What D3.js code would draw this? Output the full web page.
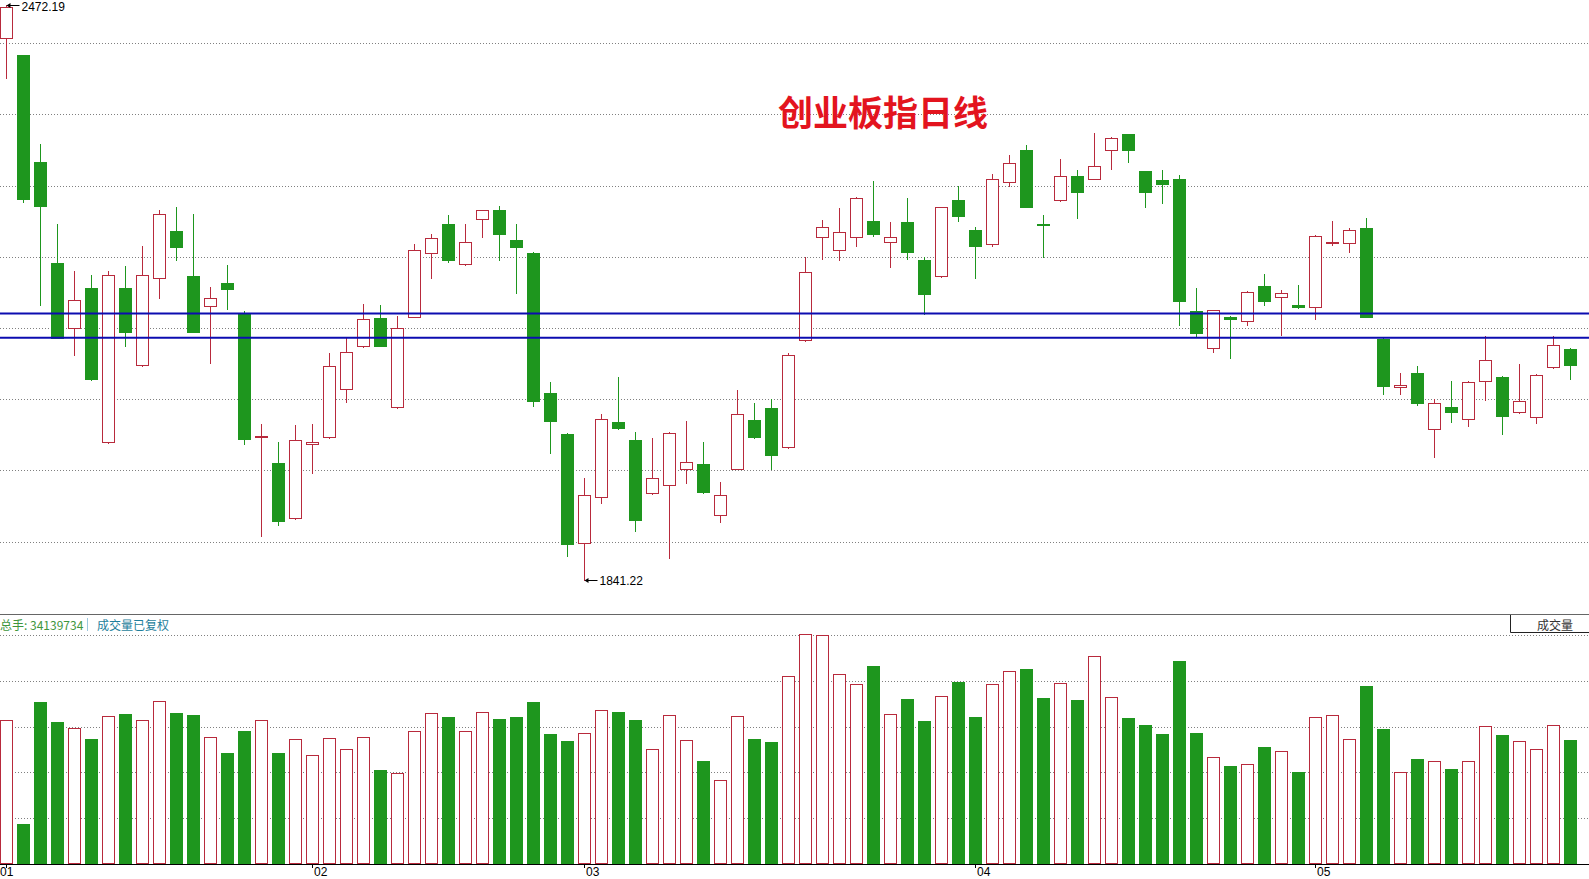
<!DOCTYPE html>
<html>
<head>
<meta charset="utf-8">
<script src="https://cdn.jsdelivr.net/npm/d3@7/dist/d3.min.js"></script>
<style>
  body { margin: 0; background: #fff; overflow: hidden; }
  svg { display: block; }
  text { font-family: "Liberation Sans", Arial, sans-serif; }
</style>
</head>
<body>
<div id="chart"></div>
<script>
// daily candles
var opens = [2436.5, 2416.8, 2299.8, 2189.4, 2118.1, 2161.7, 1992.3, 2161.7, 2077.0, 2172.2,
  2224.3, 2175.2, 2141.6, 2167.2, 2133.2, 1998.1, 1970.0, 1908.8, 1990.6, 1998.1,
  2050.6, 2098.0, 2129.0, 2030.9, 2129.9, 2199.9, 2232.2, 2187.8, 2237.3, 2246.9,
  2214.2, 2200.3, 2046.8, 2001.9, 1881.9, 1932.3, 2014.9, 1995.2, 1936.5, 1945.7,
  1963.3, 1968.8, 1912.5, 1963.3, 2016.6, 2030.0, 1987.2, 2104.7, 2217.5, 2202.9,
  2217.5, 2235.2, 2212.1, 2234.3, 2192.4, 2174.8, 2258.2, 2225.5, 2209.6, 2277.5,
  2313.2, 2232.2, 2257.8, 2284.2, 2281.3, 2312.4, 2330.4, 2290.1, 2280.0, 2281.3,
  2136.2, 2095.5, 2129.9, 2125.2, 2164.3, 2151.7, 2142.9, 2140.8, 2211.7, 2210.8,
  2227.6, 2105.9, 2052.7, 2068.6, 2007.8, 2031.3, 2018.7, 2060.2, 2064.4, 2025.4,
  2019.9, 2074.5, 2095.0];
var highs = [2472.19, 2416.8, 2319.9, 2232.2, 2180.6, 2176.4, 2180.6, 2186.1, 2207.9, 2246.9,
  2250.7, 2243.1, 2163.0, 2186.9, 2136.6, 2012.8, 1992.3, 2011.6, 2012.8, 2090.4,
  2107.6, 2144.5, 2143.3, 2131.1, 2210.0, 2220.9, 2241.9, 2232.2, 2247.7, 2251.9,
  2232.2, 2200.8, 2059.0, 2002.4, 1952.8, 2023.7, 2064.0, 2003.6, 1996.9, 2003.2,
  2016.2, 1992.3, 1949.0, 2049.3, 2035.9, 2040.1, 2090.4, 2195.7, 2236.4, 2249.0,
  2261.2, 2279.6, 2234.3, 2260.3, 2195.7, 2251.1, 2273.3, 2228.5, 2286.3, 2307.7,
  2318.2, 2241.5, 2303.1, 2291.0, 2331.7, 2327.5, 2330.9, 2290.6, 2291.4, 2285.5,
  2162.2, 2137.9, 2131.1, 2158.0, 2177.3, 2159.6, 2164.7, 2219.3, 2235.2, 2227.6,
  2238.1, 2107.2, 2068.6, 2075.7, 2040.1, 2060.2, 2059.4, 2109.3, 2064.9, 2077.8,
  2067.3, 2108.5, 2095.5];
var lows = [2391.6, 2256.6, 2143.3, 2106.8, 2088.7, 2060.6, 1991.4, 2098.0, 2076.5, 2150.4,
  2192.0, 2113.5, 2079.9, 2138.3, 1991.0, 1889.5, 1901.6, 1907.9, 1958.3, 1997.6,
  2036.3, 2097.5, 2098.3, 2030.4, 2129.4, 2173.1, 2189.9, 2186.9, 2218.0, 2192.0,
  2155.9, 2032.1, 1980.9, 1867.2, 1841.22, 1925.6, 2007.3, 1895.4, 1936.0, 1866.0,
  1948.2, 1936.5, 1904.6, 1962.8, 1996.9, 1962.9, 1986.7, 2103.9, 2194.0, 2192.0,
  2207.9, 2218.8, 2185.2, 2194.0, 2133.6, 2174.3, 2235.2, 2173.1, 2207.5, 2273.8,
  2250.6, 2195.7, 2257.3, 2238.9, 2280.8, 2291.8, 2300.2, 2251.1, 2255.3, 2120.6,
  2108.5, 2091.7, 2085.4, 2120.6, 2143.3, 2109.7, 2140.0, 2128.2, 2208.7, 2200.8,
  2129.8, 2045.5, 2045.5, 2033.8, 1976.3, 2014.9, 2009.9, 2038.4, 2001.1, 2025.0,
  2014.1, 2074.0, 2062.3];
var closes = [2470.5, 2258.7, 2251.1, 2107.6, 2148.3, 2061.5, 2176.0, 2113.9, 2176.0, 2242.7,
  2206.2, 2113.9, 2150.4, 2160.1, 1995.6, 1999.0, 1906.7, 1994.8, 1993.1, 2076.2,
  2091.3, 2127.3, 2098.8, 2118.1, 2203.3, 2216.3, 2193.2, 2212.1, 2246.9, 2220.5,
  2206.2, 2038.4, 2016.6, 1881.5, 1934.8, 2017.9, 2007.8, 1907.9, 1953.2, 2002.3,
  1970.9, 1937.7, 1934.4, 2023.3, 1997.7, 1978.0, 2087.9, 2178.9, 2228.5, 2223.0,
  2260.3, 2221.3, 2217.5, 2201.6, 2154.6, 2250.3, 2240.2, 2207.5, 2280.9, 2298.5,
  2251.1, 2231.4, 2284.2, 2266.6, 2295.2, 2325.8, 2312.4, 2267.5, 2275.4, 2147.1,
  2111.8, 2137.4, 2128.2, 2157.1, 2147.9, 2155.9, 2140.3, 2218.4, 2212.5, 2225.1,
  2130.3, 2054.8, 2055.2, 2035.9, 2035.9, 2026.2, 2059.0, 2082.9, 2022.0, 2038.0,
  2066.5, 2098.8, 2077.0];
// volume, millions of lots (总手)
var volumes = [39.55, 11.01, 44.60, 39.10, 37.44, 34.42, 40.66, 41.30, 39.55, 44.79,
  41.57, 41.02, 34.97, 30.56, 36.62, 39.55, 30.56, 34.42, 29.92, 34.69,
  31.57, 34.97, 25.88, 25.15, 36.53, 41.48, 40.47, 36.53, 41.76, 39.92,
  40.47, 44.60, 35.79, 33.86, 35.98, 42.31, 41.85, 39.65, 31.57, 40.93,
  34.05, 28.36, 23.04, 40.66, 34.42, 33.59, 51.67, 63.23, 63.05, 52.22,
  49.47, 54.51, 41.21, 45.43, 39.37, 46.16, 50.11, 40.47, 49.47, 53.14,
  53.69, 45.70, 49.74, 45.15, 57.17, 45.89, 40.20, 38.27, 35.79, 55.89,
  36.07, 29.37, 26.98, 27.44, 32.21, 31.02, 25.24, 40.38, 40.93, 34.32,
  49.01, 37.17, 25.24, 28.91, 28.27, 26.16, 28.27, 37.90, 35.52, 33.77,
  31.57, 38.18, 34.14];
var lastVolume = 34139734;

// first trading day of each month, and its label
var monthIdx = [0, 18, 34, 57, 77];
var monthLabels = ["01", "02", "03", "04", "05"];

// dotted grid levels of the price panel, and the two drawn blue lines
var gridLevels = [2430.2, 2352.1, 2274.0, 2195.9, 2117.8, 2039.7, 1961.6, 1883.5];
var blueLevels = [2133.6, 2107.1];
var volTop = 63.05;

var svgWidth = 1589, svgHeight = 879;
var red = "#b82a3c", green = "#1e961e";

var svg = d3.select("#chart").append("svg")
  .attr("width", svgWidth)
  .attr("height", svgHeight);

var idx = d3.range(opens.length);
var x = d3.scaleLinear().domain([0, idx.length - 1]).range([6.3, 1570.3]);
var y = d3.scaleLinear().domain([1841.22, 2472.19]).range([580.1, 5]);
var yVol = d3.scaleLinear().domain([0, volTop]).range([864, 635]);
var bodyW = 12;

function up(i) { return closes[i] >= opens[i]; }
function left(i) { return Math.round(x(i) - bodyW / 2) + 0.5; }
function mid(i) { return Math.round(x(i) - bodyW / 2) + 6.5; }

// grid
svg.append("g").selectAll("line")
  .data(gridLevels)
  .enter().append("line")
  .attr("x1", 0).attr("x2", svgWidth)
  .attr("y1", d => Math.round(y(d)) + 0.5)
  .attr("y2", d => Math.round(y(d)) + 0.5)
  .attr("stroke", "#808080")
  .attr("stroke-dasharray", "1,2");

svg.append("g").selectAll("line")
  .data(d3.range(1, 6).map(k => volTop * k / 5))
  .enter().append("line")
  .attr("x1", 0).attr("x2", svgWidth)
  .attr("y1", d => Math.round(yVol(d)) + 0.5)
  .attr("y2", d => Math.round(yVol(d)) + 0.5)
  .attr("stroke", "#808080")
  .attr("stroke-dasharray", "1,2");

// title
svg.append("text")
  .attr("x", 778).attr("y", 110)
  .attr("dominant-baseline", "central")
  .style("font-family", "'Noto Sans CJK SC', sans-serif")
  .style("font-size", "35px")
  .style("font-weight", "bold")
  .attr("fill", "#e3141e")
  .text("创业板指日线");

// candles
var candles = svg.append("g").selectAll("g")
  .data(idx)
  .enter().append("g");

candles.append("line")
  .attr("x1", mid).attr("x2", mid)
  .attr("y1", i => Math.round(y(highs[i])))
  .attr("y2", i => Math.round(y(lows[i])) + 1)
  .attr("stroke", i => up(i) ? red : green);

candles.append("rect")
  .attr("x", left)
  .attr("y", i => Math.round(y(Math.max(opens[i], closes[i]))) + 0.5)
  .attr("width", bodyW)
  .attr("height", i => Math.max(1, Math.round(Math.abs(y(opens[i]) - y(closes[i])))))
  .attr("fill", i => up(i) ? "#fff" : green)
  .attr("stroke", i => up(i) ? red : green);

// blue lines
svg.append("g").selectAll("line")
  .data(blueLevels)
  .enter().append("line")
  .attr("x1", 0).attr("x2", svgWidth)
  .attr("y1", d => y(d)).attr("y2", d => y(d))
  .attr("stroke", "#0c0cb0")
  .attr("stroke-width", 2);

// high / low markers
var hi = d3.maxIndex(highs), lo = d3.minIndex(lows);
[[hi, highs[hi]], [lo, lows[lo]]].forEach(function(m) {
  var cx = mid(m[0]), cy = Math.round(y(m[1])) + 0.5;
  svg.append("line")
    .attr("x1", cx + 1).attr("x2", cx + 13)
    .attr("y1", cy).attr("y2", cy)
    .attr("stroke", "#000");
  svg.append("path")
    .attr("d", `M${cx},${cy}l4,-2.5v5z`)
    .attr("fill", "#000");
  svg.append("text")
    .attr("x", cx + 15).attr("y", Math.max(cy, 7))
    .attr("dominant-baseline", "central")
    .style("font-size", "12px")
    .attr("fill", "#000")
    .text(d3.format(".2f")(m[1]));
});

// panel separator
svg.append("line")
  .attr("x1", 0).attr("x2", svgWidth)
  .attr("y1", 614.5).attr("y2", 614.5)
  .attr("stroke", "#666");

// volume header
svg.append("text")
  .attr("x", 0).attr("y", 624)
  .attr("dominant-baseline", "central")
  .style("font-family", "'Noto Sans CJK SC', sans-serif")
  .style("font-size", "12px")
  .attr("fill", "#3d963d")
  .text("总手: " + lastVolume);
svg.append("line")
  .attr("x1", 87.5).attr("x2", 87.5)
  .attr("y1", 618).attr("y2", 631)
  .attr("stroke", "#9cc8e0");
svg.append("text")
  .attr("x", 97).attr("y", 624)
  .attr("dominant-baseline", "central")
  .style("font-family", "'Noto Sans CJK SC', sans-serif")
  .style("font-size", "12px")
  .attr("fill", "#1f7f9c")
  .text("成交量已复权");

svg.append("path")
  .attr("d", "M1510.5,615V632.5H1589")
  .attr("fill", "none")
  .attr("stroke", "#222");
svg.append("text")
  .attr("x", 1537).attr("y", 624.5)
  .attr("dominant-baseline", "central")
  .style("font-family", "'Noto Sans CJK SC', sans-serif")
  .style("font-size", "12px")
  .attr("fill", "#333")
  .text("成交量");

// volume bars
svg.append("g").selectAll("rect")
  .data(idx)
  .enter().append("rect")
  .attr("x", left)
  .attr("y", i => Math.round(yVol(volumes[i])) + 0.5)
  .attr("width", bodyW)
  .attr("height", i => Math.round(yVol(0) - yVol(volumes[i])) - 1)
  .attr("fill", i => up(i) ? "#fff" : green)
  .attr("stroke", i => up(i) ? red : green);

// x axis
svg.append("line")
  .attr("x1", 0).attr("x2", svgWidth)
  .attr("y1", 864.5).attr("y2", 864.5)
  .attr("stroke", "#000");

var months = svg.append("g").selectAll("g")
  .data(monthIdx)
  .enter().append("g");
months.append("line")
  .attr("x1", d => Math.round(x(d)) + 0.5)
  .attr("x2", d => Math.round(x(d)) + 0.5)
  .attr("y1", 864).attr("y2", 868)
  .attr("stroke", "#000");
months.append("text")
  .attr("x", (d, k) => k === 0 ? 0 : Math.round(x(d)) + 2)
  .attr("y", 871.5)
  .attr("dominant-baseline", "central")
  .style("font-size", "12px")
  .attr("fill", "#000")
  .text((d, k) => monthLabels[k]);
</script>
</body>
</html>
